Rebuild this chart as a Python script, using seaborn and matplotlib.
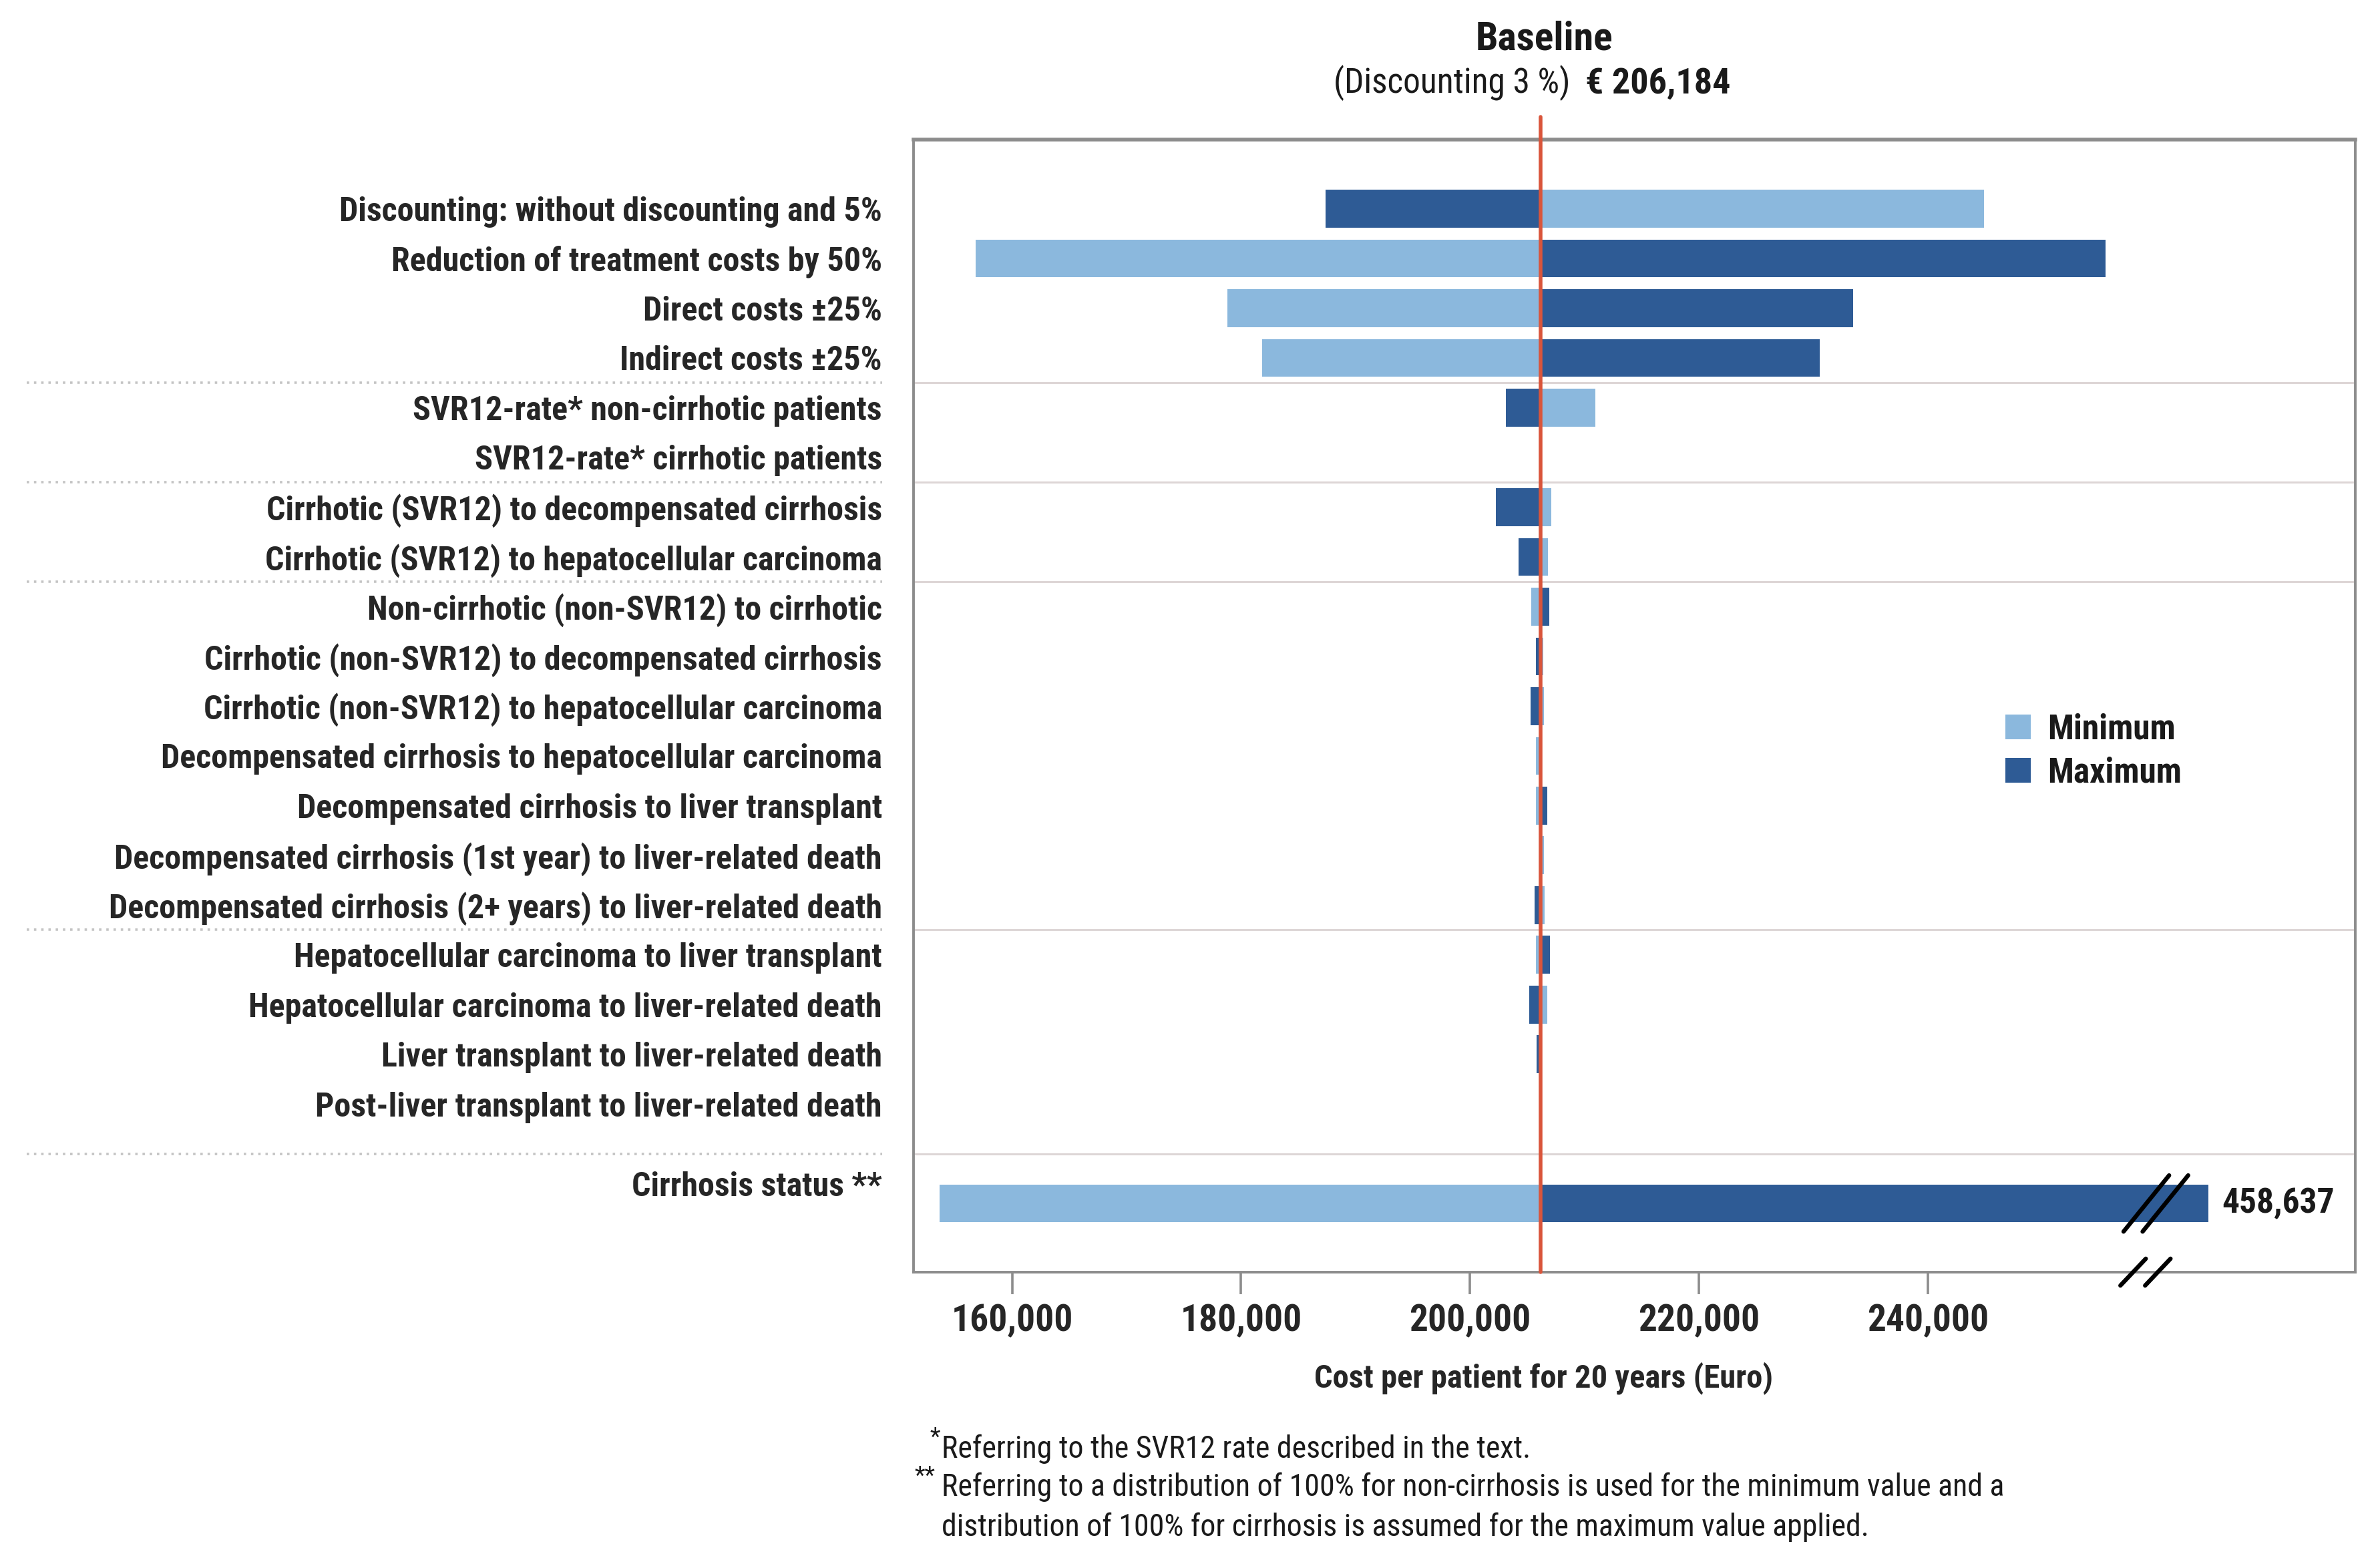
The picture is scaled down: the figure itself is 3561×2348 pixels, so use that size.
import numpy as np
import matplotlib
matplotlib.use("Agg")
import matplotlib.pyplot as plt
import matplotlib.transforms as mtransforms
from matplotlib import font_manager
from matplotlib.patches import Patch
from matplotlib.ticker import FuncFormatter
import seaborn as sns

# base case: discounting 3 %
baseline = 206184

parameters = [
    "Discounting: without discounting and 5%",
    "Reduction of treatment costs by 50%",
    "Direct costs \u00b125%",
    "Indirect costs \u00b125%",
    "SVR12-rate* non-cirrhotic patients",
    "SVR12-rate* cirrhotic patients",
    "Cirrhotic (SVR12) to decompensated cirrhosis",
    "Cirrhotic (SVR12) to hepatocellular carcinoma",
    "Non-cirrhotic (non-SVR12) to cirrhotic",
    "Cirrhotic (non-SVR12) to decompensated cirrhosis",
    "Cirrhotic (non-SVR12) to hepatocellular carcinoma",
    "Decompensated cirrhosis to hepatocellular carcinoma",
    "Decompensated cirrhosis to liver transplant",
    "Decompensated cirrhosis (1st year) to liver-related death",
    "Decompensated cirrhosis (2+ years) to liver-related death",
    "Hepatocellular carcinoma to liver transplant",
    "Hepatocellular carcinoma to liver-related death",
    "Liver transplant to liver-related death",
    "Post-liver transplant to liver-related death",
    "Cirrhosis status **",
]

# cost per patient when the parameter is set to its minimum / maximum
cost_min = [244900, 156800, 178800, 181850, 210950, 206184, 207100, 206800,
            205350, 206400, 206450, 205750, 205750, 206450, 206540, 205750,
            206740, 206250, 206184, 153650]
cost_max = [187400, 255500, 233450, 230550, 203150, 206184, 202250, 204250,
            206900, 205750, 205300, 206250, 206740, 206100, 205650, 207000,
            205200, 205800, 206184, 458637]

xticks = [160000, 180000, 200000, 220000, 240000]
series_labels = ["Minimum", "Maximum"]

footnotes = [
    "Referring to the SVR12 rate described in the text.",
    "Referring to a distribution of 100% for non-cirrhosis is used for the minimum value and a",
    "distribution of 100% for cirrhosis is assumed for the maximum value applied.",
]

# layout
row_pos = np.array(list(range(19)) + [20])
label_pos = list(range(19)) + [19.6]
group_lines = [3.5, 5.5, 7.5, 14.5, 19.0]
x_cut = 264500          # axis break, longer bars are cut here
xlim = (151400, 277350)
ylim = (21.38, -1.39)

sns.set_style("white")
installed = {f.name for f in font_manager.fontManager.ttflist}
prefer = ["Liberation Sans Narrow", "DejaVu Sans Condensed", "Roboto Condensed",
          "Open Sans Condensed", "Liberation Sans", "DejaVu Sans"]
fam = [f for f in prefer if f in installed] + ["DejaVu Sans"]
plt.rcParams["font.family"] = fam
plt.rcParams["text.color"] = "#1a1a1a"

palette = sns.color_palette(["#8BB8DD", "#2E5B95"])
light, dark = palette
red = "#D9553B"
grey = "#8C8C8C"

fig = plt.figure(figsize=(17.805, 11.74), dpi=200)
ax = fig.add_axes([0.3842, 0.1887, 0.6063, 0.7223])

vmin = np.minimum(np.array(cost_min), x_cut)
vmax = np.minimum(np.array(cost_max), x_cut)
ax.barh(row_pos, vmin - baseline, left=baseline, height=0.76, color=light, lw=0, zorder=2)
ax.barh(row_pos, vmax - baseline, left=baseline, height=0.76, color=dark, lw=0, zorder=2)

ax.set_xlim(*xlim)
ax.set_ylim(*ylim)

# group separators: solid inside, dotted under the labels
trans = mtransforms.blended_transform_factory(ax.transAxes, ax.transData)
for g in group_lines:
    ax.axhline(g, color="#DDD6D6", lw=1.1, zorder=1)
    ax.plot([-0.615, -0.022], [g, g], transform=trans, clip_on=False,
            color="#C4C4C4", lw=1.3, ls=(0, (1, 2)))

# baseline line, a bit above the frame
ax.plot([baseline, baseline], [ylim[0], ylim[1] - 0.45], color=red, lw=2.0,
        clip_on=False, zorder=5)

# axes styling
for s in ax.spines.values():
    s.set_color(grey)
    s.set_linewidth(1.4)
ax.spines["top"].set_linewidth(2.0)
ax.set_xticks(xticks)
ax.xaxis.set_major_formatter(FuncFormatter(lambda v, p: f"{v:,.0f}"))
ax.tick_params(axis="x", direction="out", length=12, width=1.3, color=grey,
               labelsize=20, pad=5, bottom=True)
for t in ax.get_xticklabels():
    t.set_fontweight("bold")
ax.set_yticks(label_pos)
ax.set_yticklabels(parameters, fontsize=18, fontweight="bold")
ax.tick_params(axis="y", length=0, pad=17)

ax.set_xlabel("Cost per patient for 20 years (Euro)", fontsize=17.5, fontweight="bold")
ax.xaxis.set_label_coords(0.437, -0.079)

# cut bar: value label and break marks
ci = len(parameters) - 1
ax.annotate(f"{cost_max[ci]:,}", xy=(x_cut, row_pos[ci]), xytext=(7.5, 0),
            textcoords="offset points", va="center", ha="left",
            fontsize=18.5, fontweight="bold")
for off in (-5415, -3750):
    xc = x_cut + off
    ax.plot([xc - 1990, xc + 1990], [row_pos[ci] + 0.565, row_pos[ci] - 0.565],
            color="black", lw=2.3, solid_capstyle="round", clip_on=False, zorder=6)
for off in (-6570, -4410):
    xc = x_cut + off
    ax.plot([xc - 1110, xc + 1110], [ylim[0] + 0.27, ylim[0] - 0.27], color="black",
            lw=2.3, solid_capstyle="round", clip_on=False, zorder=6)

# title over the baseline line
ax.annotate("Baseline", xy=(baseline, 1), xycoords=("data", "axes fraction"),
            xytext=(2, 48.5), textcoords="offset points", ha="center", va="baseline",
            fontsize=21.5, fontweight="bold")
ax.annotate("(Discounting 3 %)", xy=(baseline, 1), xycoords=("data", "axes fraction"),
            xytext=(16, 25), textcoords="offset points", ha="right", va="baseline",
            fontsize=18.5)
ax.annotate(f"\u20ac {baseline:,}", xy=(baseline, 1), xycoords=("data", "axes fraction"),
            xytext=(24, 25), textcoords="offset points", ha="left", va="baseline",
            fontsize=19.5, fontweight="bold")

handles = [Patch(facecolor=c, edgecolor="none", label=l) for c, l in zip(palette, series_labels)]
leg = ax.legend(handles=handles, loc="upper left", bbox_to_anchor=(0.757, 0.494),
                frameon=False, fontsize=18.5, handlelength=0.74, handleheight=0.74,
                handletextpad=0.5, labelspacing=0.3, borderpad=0, borderaxespad=0)
for t in leg.get_texts():
    t.set_fontweight("bold")

# footnotes
fig.text(0.391, 0.0907, "*", fontsize=13, va="top", ha="left")
fig.text(0.396, 0.0703, footnotes[0], fontsize=16.5, va="baseline")
fig.text(0.3847, 0.0663, "**", fontsize=13, va="top", ha="left")
fig.text(0.396, 0.046, footnotes[1], fontsize=16.5, va="baseline")
fig.text(0.396, 0.0204, footnotes[2], fontsize=16.5, va="baseline")

fig.savefig("out.png", dpi=200, facecolor="white")
